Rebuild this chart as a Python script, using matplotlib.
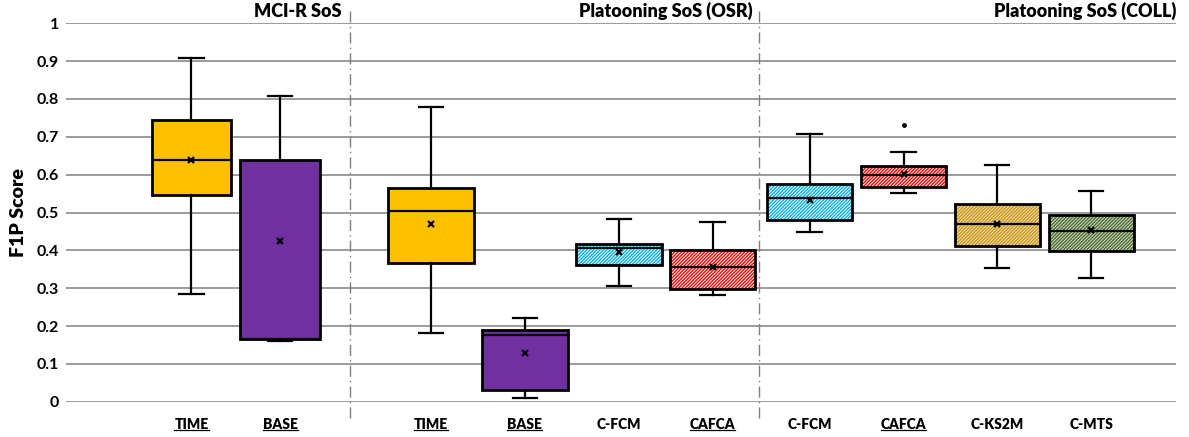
import matplotlib
matplotlib.use('Agg')
import matplotlib.pyplot as plt
from matplotlib.patches import PathPatch
from matplotlib.lines import Line2D

plt.rcParams.update({
    'font.family': ['Lato', 'DejaVu Sans'],
    'font.weight': 'bold',
    'hatch.linewidth': 1.0,
})

# ── F1P score distributions per method ─────────────────────────────
labels = ['TIME', 'BASE', 'TIME', 'BASE', 'C-FCM', 'CAFCA',
          'C-FCM', 'CAFCA', 'C-KS2M', 'C-MTS']
underlined = [True, True, True, True, False, True, False, True, False, False]

whishi = [0.907, 0.809, 0.780, 0.220, 0.483, 0.475, 0.707, 0.659, 0.625, 0.557]
q3     = [0.745, 0.640, 0.565, 0.190, 0.417, 0.400, 0.576, 0.623, 0.523, 0.493]
med    = [0.640, 0.165, 0.505, 0.176, 0.406, 0.357, 0.539, 0.598, 0.470, 0.450]
q1     = [0.545, 0.165, 0.366, 0.032, 0.360, 0.298, 0.480, 0.567, 0.412, 0.398]
whislo = [0.285, 0.161, 0.182, 0.011, 0.306, 0.281, 0.448, 0.551, 0.353, 0.327]
means  = [0.640, 0.425, 0.470, 0.129, 0.395, 0.357, 0.533, 0.601, 0.470, 0.453]
fliers = [[], [], [], [], [], [], [], [0.732], [], []]

groups = ['MCI-R SoS', 'Platooning SoS (OSR)', 'Platooning SoS (COLL)']

# ── layout ─────────────────────────────────────────────────────────
pos = [1.335, 2.277, 3.883, 4.883, 5.883, 6.878, 7.91, 8.91, 9.907, 10.906]
widths = [0.85, 0.85] + [0.905] * 8
separators = [3.02, 7.372]
group_right = [2.936, 7.309, 11.809]

# (face, hatch colour) – None hatch means solid fill
styles = [
    ('#FFC000', None), ('#7030A0', None),
    ('#FFC000', None), ('#7030A0', None),
    ('#FFFFFF', '#00B0F0'), ('#FFFFFF', '#FF0000'),
    ('#FFFFFF', '#00B0F0'), ('#FFFFFF', '#FF0000'),
    ('#F3E0A8', '#C79620'), ('#CFDDBF', '#4F6B38'),
]

fig = plt.figure(figsize=(11.89, 4.37), dpi=100)
ax = fig.add_axes([66 / 1189, 1 - 401.7 / 437, 1110 / 1189, 378.4 / 437])

stats = []
for i in range(len(labels)):
    stats.append(dict(label=labels[i], whislo=whislo[i], q1=q1[i], med=med[i],
                      q3=q3[i], whishi=whishi[i], mean=means[i],
                      fliers=fliers[i]))

bp = ax.bxp(stats, positions=pos, widths=widths, capwidths=0.26,
            patch_artist=True, showmeans=True, showfliers=True,
            boxprops=dict(linewidth=2, edgecolor='black'),
            medianprops=dict(color='black', linewidth=1.6),
            whiskerprops=dict(color='black', linewidth=1.6),
            capprops=dict(color='black', linewidth=1.6),
            meanprops=dict(marker='x', markeredgecolor='black',
                           markersize=5, markeredgewidth=1.6),
            flierprops=dict(marker='o', markerfacecolor='black',
                            markeredgecolor='black', markersize=2.5))

for box, (face, hatch) in zip(bp['boxes'], styles):
    box.set_facecolor(face)
    if hatch is not None:
        box.set_edgecolor(hatch)
        box.set_hatch('/' * 10)
        box.set_linewidth(0)
        ax.add_patch(PathPatch(box.get_path(), fill=False, edgecolor='black',
                               linewidth=2, zorder=2.05))

# axes styling
ax.set_xlim(0, 11.809)
ax.set_ylim(0, 1)
ax.set_yticks([i / 10 for i in range(11)])
ax.set_yticklabels(['0', '0.1', '0.2', '0.3', '0.4', '0.5', '0.6',
                    '0.7', '0.8', '0.9', '1'], fontsize=11.5, fontweight='bold')
ax.yaxis.grid(True, color='#8A8A8A', linewidth=1.2)
ax.set_axisbelow(True)
for s in ax.spines.values():
    s.set_visible(False)
ax.tick_params(axis='y', length=0, pad=5)
ax.tick_params(axis='x', length=0, pad=12)
ax.set_xticks(pos)
ax.set_xticklabels(labels, fontsize=10, fontweight='heavy')
ax.set_ylabel('F1P Score', fontsize=14, fontweight='heavy', labelpad=7)

# group separators and titles
for sx in separators:
    ax.axvline(sx, ymin=-0.043, ymax=1.043, color='#7F7F7F', linewidth=1,
               linestyle=(0, (8, 3, 1, 3)), clip_on=False, zorder=1)
for gx, name in zip(group_right, groups):
    ax.text(gx, 1.0325, name, ha='right', va='center', fontsize=13,
            fontweight='heavy', clip_on=False)

# underline selected category labels
fig.canvas.draw()
renderer = fig.canvas.get_renderer()
for lbl, flag in zip(ax.get_xticklabels(), underlined):
    if not flag:
        continue
    bb = lbl.get_window_extent(renderer)
    y = (bb.y0 + 1.5) / fig.bbox.height
    fig.add_artist(Line2D([bb.x0 / fig.bbox.width, bb.x1 / fig.bbox.width],
                          [y, y], color='black', linewidth=0.9))

fig.savefig('out.png', dpi=100)
plt.close(fig)
